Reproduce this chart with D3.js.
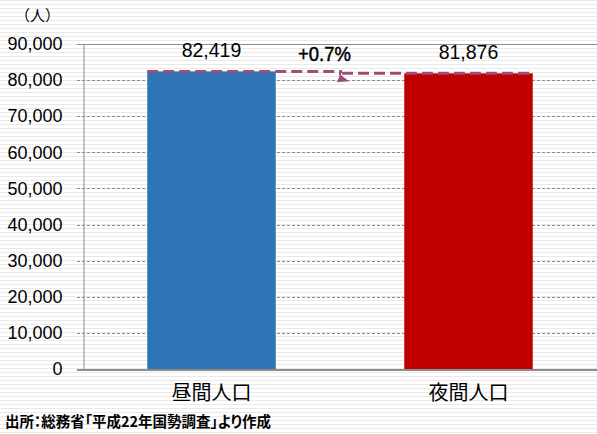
<!DOCTYPE html>
<html>
<head>
<meta charset="utf-8">
<script src="https://cdn.jsdelivr.net/npm/d3@7"></script>
<style>
  html, body { margin: 0; padding: 0; background: #fff; }
  svg { display: block; }
</style>
</head>
<body>
<div id="chart"></div>
<script>
// Daytime vs nighttime population
const categories = ["昼間人口", "夜間人口"];
const values = [82419, 81876];
const barColors = ["#2e75b6", "#c00000"];
const yTicks = [0, 10000, 20000, 30000, 40000, 50000, 60000, 70000, 80000, 90000];
const ratioLabel = "+0.7%";
const unitLabel = "（人）";
const sourceLabel = "出所：総務省「平成22年国勢調査」より作成";

const W = 597, H = 434;
const plot = { left: 83, right: 597, top: 44, bottom: 369 };

const svg = d3.select("#chart").append("svg")
  .attr("width", W).attr("height", H);

// striped background
const defs = svg.append("defs");
const pat = defs.append("pattern")
  .attr("id", "stripes").attr("patternUnits", "userSpaceOnUse")
  .attr("width", 8).attr("height", 4);
pat.append("rect").attr("width", 8).attr("height", 4).attr("fill", "#ffffff");
pat.append("rect").attr("y", 0).attr("width", 8).attr("height", 1).attr("fill", "#e9e9e9");
svg.append("rect").attr("width", W).attr("height", H).attr("fill", "url(#stripes)");

const x = d3.scaleBand().domain(categories)
  .range([plot.left, plot.right]).paddingInner(0.5).paddingOuter(0.25);
const y = d3.scaleLinear().domain([0, 90000]).range([plot.bottom, plot.top]);

// gridlines
const grid = svg.append("g");
grid.selectAll("line").data(yTicks.filter(d => d > 0)).join("line")
  .attr("x1", plot.left - 6).attr("x2", plot.right)
  .attr("y1", d => Math.round(y(d)) + 0.5).attr("y2", d => Math.round(y(d)) + 0.5)
  .attr("stroke", "#8c8c8c").attr("stroke-width", 1)
  .attr("stroke-dasharray", d => d === 90000 ? null : "3,2");

// y axis
const yAxis = svg.append("g")
  .attr("transform", `translate(${plot.left + 0.5},0)`)
  .call(d3.axisLeft(y).tickValues(yTicks).tickSize(0).tickPadding(21)
    .tickFormat(d3.format(",")));
yAxis.select(".domain").attr("stroke", "#8c8c8c");
yAxis.selectAll("text")
  .attr("font-family", "Liberation Sans, Arial, sans-serif")
  .attr("font-size", 18).attr("fill", "#000");

// bars
svg.append("g").selectAll("rect").data(values).join("rect")
  .attr("x", (d, i) => x(categories[i]))
  .attr("width", x.bandwidth())
  .attr("y", d => y(d))
  .attr("height", d => y(0) - y(d))
  .attr("fill", (d, i) => barColors[i]);

// x axis baseline
svg.append("line")
  .attr("x1", plot.left - 6).attr("x2", plot.right)
  .attr("y1", plot.bottom + 1).attr("y2", plot.bottom + 1)
  .attr("stroke", "#8c8c8c").attr("stroke-width", 2);

// category labels
svg.append("g").selectAll("text").data(categories).join("text")
  .attr("x", d => x(d) + x.bandwidth() / 2)
  .attr("y", 400)
  .attr("text-anchor", "middle")
  .attr("font-family", "Noto Sans CJK JP, sans-serif")
  .attr("font-size", 20).attr("fill", "#000")
  .text(d => d);

// value labels
svg.append("g").selectAll("text").data(values).join("text")
  .attr("x", (d, i) => x(categories[i]) + x.bandwidth() / 2)
  .attr("y", d => y(d) - 14)
  .attr("text-anchor", "middle")
  .attr("font-family", "Liberation Sans, Arial, sans-serif")
  .attr("font-size", 19.5).attr("fill", "#000")
  .text(d => d3.format(",")(d));

// comparison connector
const c0 = x(categories[0]), c1 = x(categories[1]) + x.bandwidth();
const stepX = 342;
const y0 = y(values[0]), y1 = y(values[1]);
const conn = svg.append("g").attr("stroke", "#9c4d78").attr("stroke-width", 3)
  .attr("fill", "none").attr("stroke-dasharray", "11,5");
conn.append("line").attr("x1", c0).attr("x2", stepX).attr("y1", y0).attr("y2", y0);
conn.append("line").attr("x1", stepX).attr("x2", c1).attr("y1", y1).attr("y2", y1);
svg.append("line").attr("x1", stepX - 2).attr("x2", stepX - 2).attr("y1", y0).attr("y2", y1 + 2)
  .attr("stroke", "#9c4d78").attr("stroke-width", 2);
svg.append("path")
  .attr("d", `M${stepX - 2},${y1 + 1} L${stepX - 5},${y1 + 9} L${stepX + 7},${y1 + 8} Z`)
  .attr("fill", "#9c4d78");

svg.append("text")
  .attr("transform", "translate(324.5,61) scale(0.88,1)")
  .attr("text-anchor", "middle")
  .attr("font-family", "Liberation Sans, Arial, sans-serif")
  .attr("font-size", 21).attr("fill", "#000")
  .attr("stroke", "#000").attr("stroke-width", 0.5)
  .text(ratioLabel);

// unit and source
svg.append("text")
  .attr("x", 15).attr("y", 21)
  .attr("font-family", "Noto Sans CJK JP, sans-serif")
  .attr("font-size", 15).attr("fill", "#000")
  .text(unitLabel);

svg.append("text")
  .attr("x", 5).attr("y", 427)
  .attr("font-family", "Noto Sans CJK JP, sans-serif")
  .style("font-feature-settings", "'palt'")
  .attr("font-size", 14.5).attr("font-weight", "bold").attr("fill", "#000")
  .text(sourceLabel);
</script>
</body>
</html>
